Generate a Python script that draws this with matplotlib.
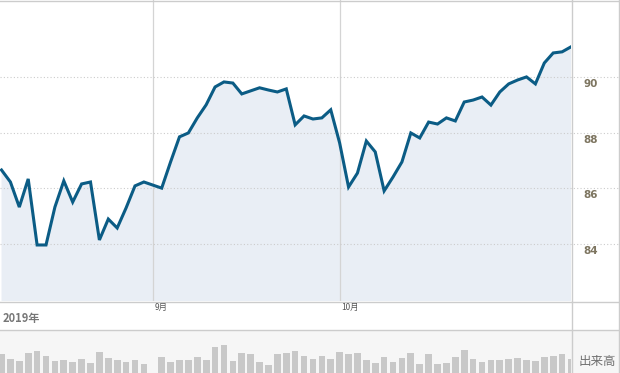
import numpy as np
import pandas as pd
import matplotlib
matplotlib.use('Agg')
import matplotlib.pyplot as plt
from matplotlib.lines import Line2D
from matplotlib.transforms import blended_transform_factory

plt.rcParams['font.family'] = ['Noto Sans CJK JP', 'DejaVu Sans']

# Weekday axis, Labor Day (Sep 2) has no trading
start, end = '2019-08-08', '2019-11-06'
holidays = ['2019-09-02']

close = [86.66, 86.23, 85.33, 86.34, 83.97, 83.97, 85.33, 86.27, 85.51, 86.16,
         86.23, 84.15, 84.90, 84.58, 85.30, 86.09, 86.23,
         86.01, 86.95, 87.85, 87.99, 88.53, 89.00, 89.64, 89.82, 89.78, 89.39,
         89.50, 89.61, 89.53, 89.46, 89.57, 88.28, 88.60, 88.49, 88.53, 88.82,
         87.63, 86.05, 86.55, 87.70, 87.31, 85.91, 86.41, 86.95, 87.99, 87.81,
         88.38, 88.31, 88.53, 88.42, 89.10, 89.17, 89.28, 88.99, 89.46, 89.75,
         89.89, 90.00, 89.75, 90.50, 90.86, 90.90, 91.08]

volume = [19, 14, 12, 20, 22, 17, 12, 13, 11, 14, 10, 21, 15, 13, 11, 13, 9,
          16, 11, 13, 13, 16, 13, 26, 28, 12, 20, 19, 11, 8, 19, 20, 22, 17,
          14, 17, 14, 21, 19, 20, 13, 10, 16, 11, 15, 20, 9, 19, 9, 10, 16,
          23, 14, 11, 13, 13, 14, 15, 13, 12, 16, 17, 19, 14]

y_ticks = [84, 86, 88, 90]
month_labels = ['9月', '10月']
month_dates = ['2019-09-02', '2019-10-01']
year_label = '2019年'
volume_label = '出来高'

# positions on the weekday scale
bdays = pd.bdate_range(start, end)
trade_days = bdays[~bdays.isin(pd.to_datetime(holidays))]
pos = np.array([bdays.get_loc(d) for d in trade_days])
month_pos = [bdays.get_loc(pd.Timestamp(d)) for d in month_dates]

W, H = 620, 373
fig = plt.figure(figsize=(W / 100, H / 100), dpi=100)
fig.patch.set_facecolor('white')

plot_right = 571
main_bottom = 301
vol_top = 329.5

line_color = '#0b5c85'
fill_color = '#e9eef5'
grid_color = '#cccccc'
border_color = '#cccccc'

# price panel
ax = fig.add_axes([0, 1 - main_bottom / H, plot_right / W, main_bottom / H])
ax.set_xlim(-0.17, pos[-1])
ax.set_ylim(81.96, 92.76)
ax.fill_between(pos, close, 70, color=fill_color, lw=0, zorder=1)
for p in month_pos:
    ax.axvline(p, color='#d4d4d4', lw=0.9, zorder=2)
trans = blended_transform_factory(ax.transAxes, ax.transData)
for t in y_ticks:
    ax.plot([0, 618 / plot_right], [t, t], transform=trans, color=grid_color,
            lw=0.8, ls=(0, (1, 2)), clip_on=False, zorder=2)
    ax.text(591 / plot_right, t - 0.25, str(t), transform=trans, ha='center',
            va='center', fontsize=7.5, fontweight='bold', color='#7d7560',
            family='DejaVu Sans', clip_on=False)
ax.plot(pos, close, color=line_color, lw=2.2, solid_joinstyle='miter', zorder=3)
ax.axis('off')

# volume panel
vax = fig.add_axes([0, 0, plot_right / W, (H - vol_top) / H])
vax.set_xlim(-0.17, pos[-1])
vax.set_ylim(0, H - vol_top)
vax.bar(pos, volume, width=0.75, color='#c8c8c8', lw=0)
vax.set_facecolor('#f6f6f6')
for s in vax.spines.values():
    s.set_visible(False)
vax.set_xticks([])
vax.set_yticks([])

fig.add_artist(plt.Rectangle((plot_right / W, 0), 1 - plot_right / W,
                             (H - vol_top) / H, transform=fig.transFigure,
                             color='#f6f6f6', lw=0, zorder=0))

# frame lines
def hline(y, x0=0, x1=W):
    fig.add_artist(Line2D([x0 / W, x1 / W], [1 - y / H, 1 - y / H],
                          transform=fig.transFigure, color=border_color, lw=1))

def vline(x, y0=0, y1=H):
    fig.add_artist(Line2D([x / W, x / W], [1 - y0 / H, 1 - y1 / H],
                          transform=fig.transFigure, color=border_color, lw=1))

hline(0.5)
hline(main_bottom + 0.5)
hline(vol_top)
vline(plot_right + 0.5)
vline(W - 0.7)

# labels
for p, lab in zip(month_pos, month_labels):
    xpx = ax.transData.transform((p, 0))[0]
    fig.text((xpx + 1.5) / W, 1 - 307 / H, lab, ha='left', va='center',
             fontsize=6, color='#555555')
fig.text(3 / W, 1 - 318.5 / H, year_label, ha='left', va='center',
         fontsize=8, fontweight='bold', color='#777777')
fig.text(597 / W, 1 - 361 / H, volume_label, ha='center', va='center',
         fontsize=9, color='#707070')

fig.savefig('out.png', dpi=100)
